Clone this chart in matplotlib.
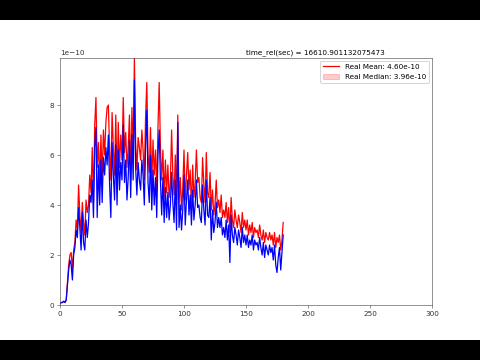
import numpy as np
import matplotlib.pyplot as plt
from matplotlib.patches import Rectangle

# 실제 평균 / 중앙값 (단위: 1e-10)
real_mean = [
    0.05, 0.1, 0.1, 0.15, 0.1, 0.2, 0.9, 1.6, 2.0, 2.1,
    1.4, 2.2, 2.5, 3.4, 3.0, 4.8, 3.6, 2.9, 4.1, 3.3,
    2.8, 4.2, 3.7, 4.0, 5.2, 4.5, 6.3, 4.1, 7.2, 8.3,
    5.5, 6.5, 4.8, 6.8, 5.0, 7.0, 6.0, 7.3, 7.9, 8.0,
    6.2, 5.0, 7.7, 6.3, 5.2, 7.6, 4.9, 7.3, 5.5, 6.8,
    5.8, 8.3, 6.1, 6.9, 5.5, 6.3, 7.6, 5.0, 7.9, 6.0,
    9.88, 6.5, 5.4, 6.7, 6.3, 5.8, 7.0, 6.2, 5.0, 7.5,
    8.9, 6.0, 5.3, 7.1, 4.8, 6.6, 5.2, 6.2, 4.5, 7.1,
    8.9, 6.3, 5.0, 6.2, 4.3, 5.8, 4.5, 5.6, 4.3, 4.9,
    7.0, 5.2, 4.4, 6.0, 4.2, 7.6, 4.0, 5.1, 3.8, 4.7,
    6.2, 4.2, 5.2, 6.1, 4.6, 5.4, 3.8, 5.6, 4.3, 4.9,
    6.2, 4.9, 5.1, 4.3, 4.1, 5.9, 4.8, 4.1, 6.1, 4.5,
    4.3, 5.3, 3.8, 4.6, 3.6, 4.0, 5.0, 3.9, 4.2, 3.7,
    4.4, 3.5, 3.8, 3.5, 4.1, 3.3, 3.9, 2.9, 4.3, 3.4,
    3.1, 3.8, 3.4, 3.1, 3.6, 3.3, 2.9, 3.7, 3.1, 3.4,
    3.0, 3.4, 2.8, 3.2, 2.9, 3.3, 2.7, 3.1, 2.9, 3.0,
    2.7, 3.2, 2.8, 2.6, 3.0, 2.5, 2.9, 2.7, 2.6, 2.9,
    2.6, 2.8, 2.4, 2.9, 2.3, 2.7, 2.5, 2.8, 2.2, 2.6,
    3.3,
]
real_median = [
    0.05, 0.1, 0.1, 0.15, 0.1, 0.2, 0.8, 1.4, 1.8, 1.6,
    1.0, 2.0, 2.3, 3.0, 2.7, 3.9, 3.1, 2.2, 3.7, 2.5,
    2.2, 3.4, 2.7, 3.3, 4.4, 4.1, 5.0, 3.5, 6.3, 7.1,
    3.5, 5.6, 4.0, 5.8, 4.1, 5.9, 5.2, 6.3, 5.6, 6.8,
    4.8, 3.5, 6.5, 5.2, 4.2, 6.4, 4.0, 6.2, 4.6, 5.7,
    5.0, 7.2, 4.9, 5.8, 4.2, 5.1, 6.6, 4.3, 6.8, 5.0,
    9.0, 5.5, 4.4, 5.7, 5.0, 4.6, 5.8, 5.2, 4.0, 6.3,
    7.8, 4.9, 4.1, 6.0, 3.8, 5.4, 4.0, 5.1, 3.5, 6.0,
    7.0, 5.0, 3.6, 5.1, 3.3, 4.7, 3.5, 4.5, 3.4, 4.0,
    5.3, 4.1, 3.3, 5.0, 3.0, 7.3, 3.1, 4.0, 3.0, 3.8,
    5.2, 3.2, 4.2, 5.0, 3.6, 4.4, 3.2, 4.6, 3.4, 4.0,
    5.0, 3.9, 4.0, 3.5, 3.3, 4.8, 3.8, 3.2, 5.0, 3.6,
    3.5, 4.3, 2.6, 3.8, 2.9, 3.3, 4.1, 3.1, 3.5, 3.1,
    3.5, 2.8, 3.1, 2.7, 3.4, 2.6, 3.2, 1.7, 3.6, 2.8,
    2.5, 3.1, 2.8, 2.4, 3.0, 2.7, 2.3, 3.1, 2.5, 2.8,
    2.4, 2.8, 2.3, 2.6, 2.4, 2.8, 2.2, 2.6, 2.4, 2.5,
    2.2, 2.7, 2.3, 2.0, 2.5, 1.9, 2.4, 2.2, 2.0, 2.4,
    2.1, 2.3, 1.8, 2.4, 1.6, 1.3, 1.9, 2.3, 1.4, 2.1,
    2.8,
]
time_label = "time_rel(sec) = 16610.901132075473"
mean_label = "Real Mean: 4.60e-10"
median_label = "Real Median: 3.96e-10"

mean = np.array(real_mean) * 1e-10
median = np.array(real_median) * 1e-10
x = np.arange(len(mean))

fig = plt.figure(figsize=(6.4, 4.8), dpi=75, facecolor='black')
# 영상 프레임처럼 위아래 검은 띠, 가운데 흰 영역
fig.add_artist(Rectangle((0, 20 / 360), 1, 320 / 360, transform=fig.transFigure,
                         facecolor='white', edgecolor='none', zorder=-1))
ax = fig.add_axes([0.125, 55 / 360, 0.775, 247 / 360])

ax.plot(x, mean, color='red', lw=1.2, label=mean_label)
ax.fill_between([], [], color='red', alpha=0.2, label=median_label)
ax.plot(x, median, color='blue', lw=1.2)

ax.set_xlim(0, 300)
ax.set_ylim(0, mean.max())
ax.tick_params(labelsize=7, length=2.5, width=0.5, colors='#333333')
ax.yaxis.get_offset_text().set_fontsize(7)
for s in ax.spines.values():
    s.set_linewidth(0.6)
    s.set_color('#555555')

ax.text(0.5, 1.008, time_label, transform=ax.transAxes, ha='left', va='bottom',
        fontsize=7)
ax.legend(loc='upper right', fontsize=7, handlelength=2.2, borderaxespad=0.4)

plt.savefig('out.png', dpi=75)
